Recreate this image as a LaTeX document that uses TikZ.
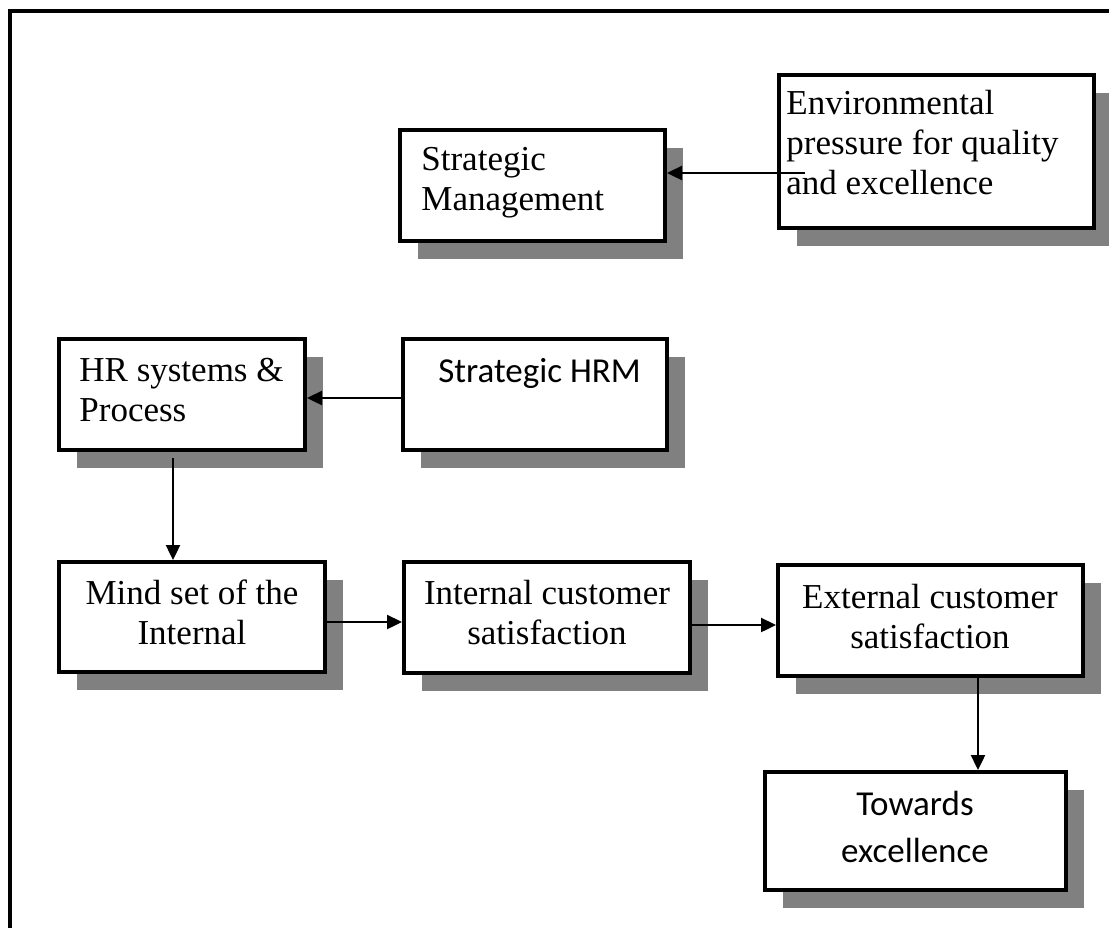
\documentclass[tikz,border=0pt]{standalone}
\usepackage{fontspec}
\setmainfont{Liberation Serif}
\newfontfamily\calibrifont{Carlito}
\usetikzlibrary{arrows.meta,shadows}
\definecolor{shadowgray}{RGB}{128,128,128}
\tikzset{
  box/.style={draw=black, line width=2pt, fill=white, rectangle, inner sep=0pt,
    drop shadow={shadow xshift=9pt, shadow yshift=-9pt, fill=shadowgray, opacity=1}},
  txt/.style={inner sep=0pt, font=\fontsize{17.5}{20}\selectfont},
  ctxt/.style={inner sep=0pt, font=\calibrifont\fontsize{17.5}{23.5}\selectfont},
  arr/.style={line width=1.2pt, -{Triangle[length=7.5pt,width=7pt]}},
  frameline/.style={line width=2pt, line cap=rect},
}
\newcommand\mybox[5]{%
  \node[box, minimum width={(#4-#2-4)*0.5pt}, minimum height={(#5-#3-4)*0.5pt}]
    (#1) at ({(#2+#4)/2},{(#3+#5)/2}) {};}
\begin{document}
\begin{tikzpicture}[x=0.5pt,y=-0.5pt]
\useasboundingbox (0,0) rectangle (1109,927);
% frame
\draw[frameline] (9.5,927) -- (9.5,11) -- (1109,11);
% boxes
\mybox{env}{777}{73}{1096}{230}
\mybox{sm}{398}{128}{667}{243}
\mybox{hr}{57}{337}{307}{452}
\mybox{shrm}{401}{337}{669}{452}
\mybox{mind}{57}{560}{327}{674}
\mybox{int}{402}{560}{692}{675}
\mybox{ext}{776}{563}{1085}{678}
\mybox{tow}{763}{770}{1068}{892}
% texts (base anchor = baseline of last line)
\node[txt, anchor=base west, align=left] (envt) at (786,194) {Environmental\\pressure for quality\\and excellence};
\node[txt, anchor=base west, align=left] (smt) at (421,210) {Strategic\\Management};
\node[txt, anchor=base west, align=left] (hrt) at (79,421) {HR systems \&\\Process};
\node[ctxt, anchor=base west] (shrmt) at (438,382) {Strategic HRM};
\node[txt, anchor=base, align=center] (mindt) at (192,644) {Mind set of the\\Internal};
\node[txt, anchor=base, align=center] (intt) at (547,644) {Internal customer\\satisfaction};
\node[txt, anchor=base, align=center] (extt) at (930,648) {External customer\\satisfaction};
\node[ctxt, anchor=base, align=center] (towt) at (915,862) {Towards\\excellence};
% connectors
\coordinate (envstart) at (805,173);
\draw[arr] (envstart) -- (sm.east |- envstart);
\draw[arr] (shrm.west |- 0,398) -- (hr.east |- 0,398);
\draw[arr] ([yshift=-3pt]hr.south -| 173,0) -- (mind.north -| 173,0);
\draw[arr] (mind.east |- 0,622) -- (int.west |- 0,622);
\draw[arr] (int.east |- 0,625) -- (ext.west |- 0,625);
\draw[arr] (ext.south -| 978,0) -- (tow.north -| 978,0);
\end{tikzpicture}
\end{document}
